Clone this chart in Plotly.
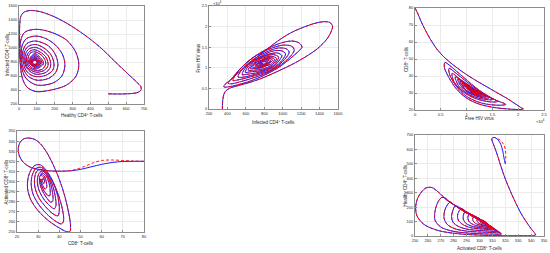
import plotly.graph_objects as go

# ---------------- data ----------------
# panel 1: healthy CD4+ T-cells (x) vs infected CD4+ T-cells (y)
p1_path = [
    (500, 345), (570, 343), (630, 350), (668, 368), (684, 405), (682, 450), (660, 510), (610, 630),
    (540, 800), (450, 1020), (360, 1200), (270, 1350), (190, 1455), (120, 1518), (65, 1536), (28, 1512),
    (10, 1450), (4, 1320), (3, 1150), (4, 950), (8, 740), (20, 560), (45, 440), (95, 378),
    (180, 400), (266, 470), (320, 600), (335, 760), (318, 940), (266, 1114), (180, 1225), (97, 1267),
    (32, 1225), (9, 1100), (6, 920), (14, 730), (38, 570), (100, 470),
    (190, 500), (240, 600), (257, 750), (245, 900), (205, 1040), (150, 1135), (95, 1170), (42, 1135),
    (17, 1030), (13, 880), (22, 720), (50, 600), (100, 540),
    (165, 565), (205, 650), (218, 760), (205, 900), (165, 1030), (93, 1100), (45, 1065), (22, 960),
    (22, 830), (35, 700), (60, 625), (98, 590),
    (150, 610), (188, 680), (196, 770), (180, 900), (140, 1000), (92, 1050), (50, 1020), (30, 940),
    (29, 820), (42, 720), (65, 660), (96, 625),
    (145, 645), (172, 705), (178, 775), (163, 890), (128, 970), (91, 1010), (55, 985), (36, 910),
    (36, 800), (50, 715), (95, 655),
    (137, 675), (160, 730), (163, 780), (148, 880), (90, 975), (58, 950), (43, 880), (43, 800),
    (57, 725), (94, 680),
    (132, 700), (150, 780), (133, 880), (90, 945), (62, 925), (49, 815), (62, 740), (93, 700),
    (138, 782), (89, 920), (54, 808), (92, 716),
    (129, 784), (89, 900), (59, 805), (91, 730),
    (122, 786), (89, 882), (63, 802), (90, 742),
    (116, 788), (88, 868), (67, 800), (90, 752),
    (111, 789), (88, 855), (71, 799), (89, 760),
    (106, 790), (88, 845), (74, 798), (89, 767),
    (102, 791), (88, 836), (77, 797), (88, 773),
    (99, 792), (88, 828), (80, 796), (88, 778),
    (96, 793), (88, 820), (82, 796), (88, 783),
    (93, 794), (88, 812), (84, 795), (88, 788),
    (88, 795),
]

# panel 2: infected CD4+ T-cells (x) vs free HIV virus, in units of 1e4 (y)
p2_path = [
    (345, 0), (347, 0.15), (355, 0.3), (375, 0.42), (420, 0.5), (520, 0.57), (650, 0.65), (800, 0.77),
    (950, 0.92), (1100, 1.08), (1250, 1.27), (1380, 1.47), (1480, 1.7), (1530, 1.9), (1540, 2.02),
    (1510, 2.1), (1450, 2.12), (1350, 2.08), (1220, 1.98), (1080, 1.84), (940, 1.64), (800, 1.40),
    (660, 1.15), (530, 0.9), (430, 0.7), (375, 0.6), (360, 0.54),
    (380, 0.53), (500, 0.58), (650, 0.68), (800, 0.82), (950, 1.0), (1080, 1.22), (1180, 1.42),
    (1210, 1.5), (1180, 1.6), (1100, 1.65), (950, 1.58), (800, 1.42), (650, 1.2), (520, 0.93),
    (440, 0.72), (405, 0.63),
    (430, 0.61), (600, 0.7), (850, 0.9), (1050, 1.2), (1125, 1.43), (1100, 1.52), (1000, 1.55),
    (850, 1.45), (680, 1.25), (540, 0.98), (465, 0.74), (460, 0.69),
    (500, 0.7), (650, 0.78), (880, 0.95), (1020, 1.2), (1070, 1.38), (1040, 1.46), (950, 1.48),
    (820, 1.38), (660, 1.17), (555, 0.95), (515, 0.78),
    (560, 0.77), (700, 0.84), (900, 1.0), (1000, 1.2), (1030, 1.34), (990, 1.41), (900, 1.41),
    (780, 1.3), (650, 1.12), (580, 0.95), (560, 0.83),
    (600, 0.84), (720, 0.88), (900, 1.03), (970, 1.2), (990, 1.3), (940, 1.36), (830, 1.32),
    (700, 1.18), (620, 1.02), (595, 0.89),
    (640, 0.9), (760, 0.93), (900, 1.06), (955, 1.26), (900, 1.32), (780, 1.26), (660, 1.07), (625, 0.94),
    (670, 0.94), (780, 0.97), (890, 1.08), (932, 1.23), (875, 1.28), (765, 1.22), (675, 1.07), (650, 0.98),
    (700, 0.99), (880, 1.1), (910, 1.21), (850, 1.25), (700, 1.1), (675, 1.01),
    (770, 1.0), (890, 1.19), (830, 1.23), (695, 1.04),
    (775, 1.02), (870, 1.17), (815, 1.21), (710, 1.06),
    (780, 1.04), (855, 1.16), (805, 1.19), (725, 1.07),
    (785, 1.06), (840, 1.14), (798, 1.17), (740, 1.09),
    (788, 1.08), (825, 1.13), (795, 1.15), (755, 1.1),
    (790, 1.11),
]

# panel 3: free HIV virus, units of 1e4 (x) vs CD8+ T-cells (y)
p3_path = [
    (0, 80), (0.05, 77), (0.12, 72), (0.2, 67), (0.3, 61.5), (0.42, 56), (0.55, 51.5), (0.7, 47.5),
    (0.85, 44), (1.0, 40.8), (1.2, 37), (1.4, 33.5), (1.6, 30), (1.8, 26.5), (1.95, 23.5), (2.06, 21.3),
    (2.1, 20.6), (2.03, 20.3),
    (1.85, 20.5), (1.55, 21.4), (1.25, 23.4), (1.0, 27), (0.8, 32.5), (0.65, 39.5), (0.57, 45), (0.58, 48),
    (0.7, 45.5), (0.95, 39), (1.25, 31.5), (1.55, 26), (1.76, 23.3),
    (1.62, 22.8), (1.3, 24), (1.0, 28), (0.8, 34), (0.67, 41), (0.66, 44.5),
    (0.8, 41.5), (1.05, 35.5), (1.35, 29), (1.6, 25),
    (1.45, 24.8), (1.15, 27), (0.9, 31.5), (0.75, 37), (0.72, 41.5),
    (0.88, 38), (1.15, 32.5), (1.5, 26.2),
    (1.3, 26.5), (1.05, 29), (0.85, 34), (0.78, 39.5),
    (0.95, 36), (1.2, 31.3), (1.43, 27),
    (1.25, 27.6), (1.02, 30.3), (0.88, 34.5), (0.83, 38),
    (1.0, 34.8), (1.22, 30.6), (1.38, 27.7),
    (1.2, 28.5), (1.0, 31.2), (0.87, 36.8),
    (1.05, 33.5), (1.33, 28.3),
    (1.15, 29.3), (0.98, 32), (0.91, 35.7),
    (1.08, 32.6), (1.29, 28.8),
    (1.12, 30), (0.94, 34.8),
    (1.1, 31.8), (1.25, 29.3),
    (1.1, 30.5), (0.97, 34),
    (1.12, 31.4), (1.22, 29.8),
    (1.08, 31), (1.0, 33.3),
    (1.12, 31.3), (1.19, 30.2),
    (1.08, 31.3), (1.02, 32.8),
    (1.1, 31.5),
]

# panel 4: CD8+ T-cells (x) vs activated CD8+ T-cells (y)
p4_blue_head = [
    (80, 320), (75, 320), (70, 319.8), (65, 318.8), (60, 317), (55, 314.5), (50, 312), (45, 310.5),
]
p4_red_head = [
    (80, 320), (75, 320.3), (70, 320.8), (65, 321.3), (60, 320.8), (56, 318.5), (52, 315), (48, 312),
    (45, 310.8),
]
p4_tail = [
    (40, 310.2), (35, 310.6), (30, 312), (26, 314.5), (23, 319), (21, 326), (20.6, 333), (21.5, 339),
    (23.5, 342.5), (26, 343), (28.5, 341.5), (31, 337.5), (34, 329), (37, 317), (40, 302), (42.5, 286),
    (44.5, 268), (45.3, 256), (45, 250.5), (43.5, 250.3),
    (40, 254), (35, 261), (30, 271), (26.5, 282), (25, 293), (25.2, 303), (26.5, 311), (28.5, 316),
    (31, 316.5), (33.5, 312), (36.5, 302), (39.5, 287), (41.5, 272), (42, 261), (41, 258),
    (38, 261), (34, 268), (30, 278), (27.5, 288), (26.7, 298), (27.3, 307), (29, 313), (31.5, 314),
    (34, 309), (37, 299), (39.3, 285), (40, 272), (39.3, 266),
    (37, 268), (33.5, 275), (30.3, 284), (28.5, 294), (28.3, 303), (29.3, 310), (31.5, 312), (34, 307.5),
    (36.5, 298), (38, 286), (38.4, 276), (37.6, 273),
    (35.5, 276), (32.5, 283), (30.3, 292), (29.6, 300), (30.2, 307), (31.8, 310.5), (33.8, 307),
    (35.7, 299), (36.8, 289), (36.9, 281), (36, 279.5),
    (34.3, 283), (32.2, 290), (30.9, 297), (30.7, 304), (31.8, 308.5), (33.5, 306), (35, 299.5),
    (35.7, 291), (35.5, 286), (34.7, 286),
    (33, 290), (31.6, 296), (31, 302), (31.6, 307), (32.8, 305.5), (33.8, 300), (34, 294), (33.3, 292.5),
    (32.2, 296), (31.3, 301), (31.4, 305.5), (32.4, 304.5), (33, 300.5), (32.7, 298),
    (31.9, 300.5), (31.6, 303.5), (32.1, 303.5), (32.3, 301.5), (31.8, 302.5),
]

# panel 5: activated CD8+ T-cells (x) vs healthy CD4+ T-cells (y)
p5_blue_head = [
    (320, 500), (319, 540), (318, 590), (316.5, 635), (314.5, 665), (312.5, 680), (310.5, 682),
]
p5_red_head = [
    (320, 500), (320.3, 540), (320.2, 590), (319, 630), (316.5, 660), (313.5, 678), (311, 683),
]
p5_tail = [
    (309.5, 675), (310, 655), (311.5, 620), (313.5, 570), (316, 500), (319, 420), (323, 330),
    (327.5, 240), (332, 160), (336.5, 95), (340.5, 45), (343, 18), (343.5, 8), (341, 3), (333, 1.5),
    (325, 1.5), (318, 2),
    (300, 6), (283, 16), (268, 38), (257, 80), (251.5, 140), (250.5, 200), (252, 260), (255, 305),
    (258.5, 333), (263, 336), (268, 305), (274.5, 250), (282, 205), (290, 160), (300, 108), (308, 65),
    (313, 35), (317, 14),
    (310, 13), (295, 18), (280, 32), (270, 62), (265.5, 110), (265.5, 170), (267.5, 230), (270.5, 266),
    (273, 265), (277, 236), (285, 188), (293, 145), (301, 103), (308, 65), (312.5, 38), (316, 24),
    (305, 26), (292, 32), (281, 50), (275, 80), (272.5, 125), (273, 175), (275, 215), (277.5, 236),
    (280, 218), (287, 178), (295, 135), (303, 95), (309, 62), (314, 34),
    (303, 37), (292, 45), (284, 65), (279.5, 95), (278.3, 135), (279.3, 175), (281, 207), (283, 205),
    (290, 165), (297, 127), (304, 90), (309.5, 60), (312.5, 44),
    (302, 48), (293, 58), (287, 80), (283.5, 110), (283, 145), (284.5, 178), (286, 190), (291, 160),
    (298, 122), (305, 85), (311, 52),
    (301, 57), (294, 68), (289.5, 88), (287.5, 115), (287.5, 145), (289, 168), (294, 148), (300, 115),
    (306, 80), (310, 60),
    (301, 65), (295.5, 78), (292, 98), (291, 125), (292, 150), (296, 140), (302, 105), (307, 76), (309, 66),
    (302, 72), (297.5, 85), (295, 105), (295, 128), (298, 130), (303, 100), (308, 72),
    (302, 78), (299, 92), (298, 110), (299, 120), (304, 98), (307, 80),
    (303, 84), (300.5, 96), (300.5, 108), (302, 110), (305, 95), (306, 85),
    (303.5, 89), (302.5, 97), (303, 103), (304.5, 97), (305, 90),
    (304, 92),
]

# equilibrium dots visible in the middle of the dense spirals
p1_centre = (88, 795)
p4_centre = (31.5, 304)

x_titles = ["Healthy CD4<sup>+</sup> T-cells", "Infected CD4<sup>+</sup> T-cells", "Free HIV virus",
            "CD8<sup>+</sup> T-cells", "Activated CD8<sup>+</sup> T-cells"]
y_titles = ["Infected CD4<sup>+</sup> T-cells", "Free HIV virus", "CD8<sup>+</sup> T-cells",
            "Activated CD8<sup>+</sup> T-cells", "Healthy CD4<sup>+</sup> T-cells"]
x_ranges = [[0, 700], [200, 1600], [0, 2.5], [20, 80], [250, 350]]
x_dticks = [100, 200, 0.5, 10, 10]
y_ranges = [[200, 1600], [0, 2.5], [20, 80], [250, 350], [0, 700]]
y_dticks = [200, 0.5, 10, 10, 100]

# ---------------- figure ----------------
W, H = 550, 253
# plot boxes in pixels: left, right, top, bottom
boxes = [(19, 144, 6, 104), (209, 338, 6, 109), (415, 544, 8, 110),
         (17, 144, 131, 232), (415, 544, 135, 236)]
# where the axis titles sit: x-title centre y, y-title centre x (pixels)
x_title_y = [115, 122, 119, 243, 248]
y_title_x = [7, 198, 406, 6, 405]
ids = ["", "2", "3", "4", "5"]

fig = go.Figure()


def add_curves(blue, red, ax):
    bx, by = zip(*blue)
    rx, ry = zip(*red)
    fig.add_trace(go.Scatter(x=bx, y=by, mode="lines", hoverinfo="skip",
                             line=dict(color="#0000ff", width=0.9, shape="spline", smoothing=0.9),
                             xaxis="x" + ax, yaxis="y" + ax))
    fig.add_trace(go.Scatter(x=rx, y=ry, mode="lines", hoverinfo="skip",
                             line=dict(color="#ff0000", width=0.9, dash="3px,2px", shape="spline",
                                       smoothing=0.9),
                             xaxis="x" + ax, yaxis="y" + ax))


add_curves(p1_path, p1_path, "")
add_curves(p2_path, p2_path, "2")
add_curves(p3_path, p3_path, "3")
add_curves(p4_blue_head + p4_tail, p4_red_head + p4_tail, "4")
add_curves(p5_blue_head + p5_tail, p5_red_head + p5_tail, "5")

for c, ax in [(p1_centre, ""), (p4_centre, "4")]:
    fig.add_trace(go.Scatter(x=[c[0]], y=[c[1]], mode="markers", hoverinfo="skip",
                             marker=dict(color="#eef6ff", size=3, line=dict(width=0)),
                             xaxis="x" + ax, yaxis="y" + ax))

tick_font = dict(family="Liberation Sans, Arial", size=4, color="#262626")
title_font = dict(family="Liberation Sans, Arial", size=4.5, color="#262626")
common = dict(showline=True, mirror=True, linecolor="#8c8c8c", linewidth=1, automargin=False,
              showgrid=True, gridcolor="#ebebeb", gridwidth=1, zeroline=False,
              ticks="inside", ticklen=2, tickcolor="#8c8c8c", tickfont=tick_font)

layout = {}
annotations = []
for i, ax in enumerate(ids):
    l, r, t, b = boxes[i]
    layout["xaxis" + ax] = dict(common, domain=[l / W, r / W], anchor="y" + ax,
                                range=x_ranges[i], tick0=x_ranges[i][0], dtick=x_dticks[i])
    layout["yaxis" + ax] = dict(common, domain=[1 - b / H, 1 - t / H], anchor="x" + ax,
                                range=y_ranges[i], tick0=y_ranges[i][0], dtick=y_dticks[i])
    annotations.append(dict(text=x_titles[i], x=(l + r) / 2 / W, y=1 - x_title_y[i] / H,
                            xref="paper", yref="paper", xanchor="center", yanchor="middle",
                            showarrow=False, font=title_font))
    annotations.append(dict(text=y_titles[i], x=y_title_x[i] / W, y=1 - (t + b) / 2 / H,
                            xref="paper", yref="paper", xanchor="center", yanchor="middle",
                            textangle=-90, showarrow=False, font=title_font))

annotations.append(dict(text="×10<sup>4</sup>", x=211 / W, y=1 - 3 / H, xref="paper", yref="paper",
                        xanchor="left", yanchor="middle", showarrow=False, font=tick_font))
annotations.append(dict(text="×10<sup>4</sup>", x=547 / W, y=1 - 121 / H, xref="paper", yref="paper",
                        xanchor="right", yanchor="middle", showarrow=False, font=tick_font))

fig.update_layout(**layout)
fig.update_layout(
    width=W, height=H, showlegend=False,
    margin=dict(l=0, r=0, t=0, b=0),
    paper_bgcolor="white", plot_bgcolor="white",
    annotations=annotations,
)

# the page's default body margin would shift the whole figure
fig.write_html("out.html", config={"displayModeBar": False},
               post_script="document.body.style.margin='0';document.body.style.padding='0';")
